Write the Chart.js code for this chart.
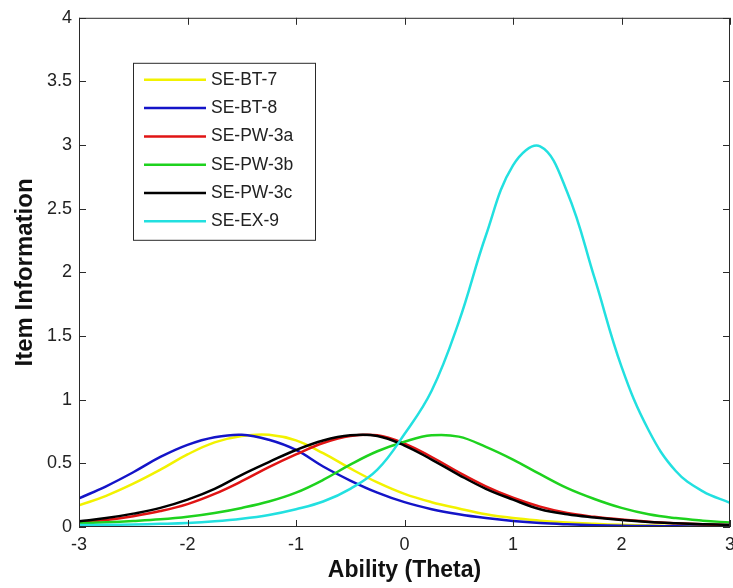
<!DOCTYPE html>
<html>
<head>
<meta charset="utf-8">
<script src="https://cdn.jsdelivr.net/npm/chart.js@4.4.1/dist/chart.umd.min.js"></script>
<style>
  html, body { margin: 0; padding: 0; background: #fff; }
  #canvaschart { width: 733px; height: 588px; }
</style>
</head>
<body>
<div id="canvaschart"><canvas id="char" width="733" height="588"></canvas></div>
<script>
// ability values (x) shared by every curve
var theta = [-3, -2.75, -2.5, -2.25, -2, -1.75, -1.5, -1.25, -1, -0.75, -0.5, -0.25, 0,
  0.25, 0.5, 0.75, 1, 1.25, 1.5, 1.75, 2, 2.25, 2.5, 2.75, 3];

// item information
var seBT7 = [0.17, 0.245, 0.34, 0.45, 0.57, 0.665, 0.715, 0.725, 0.68, 0.58, 0.46, 0.35, 0.26,
  0.195, 0.145, 0.10, 0.07, 0.05, 0.035, 0.025, 0.017, 0.012, 0.008, 0.005, 0.004];
var seBT8 = [0.225, 0.32, 0.43, 0.55, 0.645, 0.705, 0.725, 0.685, 0.605, 0.475, 0.365, 0.27, 0.195,
  0.14, 0.10, 0.07, 0.047, 0.031, 0.021, 0.014, 0.01, 0.007, 0.005, 0.003, 0.002];
var sePW3a = [0.035, 0.055, 0.085, 0.125, 0.18, 0.26, 0.36, 0.47, 0.57, 0.66, 0.715, 0.72, 0.655,
  0.55, 0.43, 0.32, 0.23, 0.16, 0.11, 0.08, 0.058, 0.042, 0.03, 0.021, 0.015];
var sePW3b = [0.03, 0.037, 0.047, 0.06, 0.08, 0.11, 0.15, 0.20, 0.27, 0.37, 0.49, 0.595, 0.67,
  0.72, 0.71, 0.63, 0.53, 0.415, 0.305, 0.22, 0.15, 0.10, 0.07, 0.05, 0.035];
var sePW3c = [0.045, 0.07, 0.105, 0.15, 0.215, 0.30, 0.41, 0.51, 0.605, 0.68, 0.72, 0.715, 0.64,
  0.53, 0.41, 0.30, 0.215, 0.14, 0.10, 0.075, 0.055, 0.04, 0.03, 0.022, 0.016];
var seEX9 = [0.015, 0.017, 0.02, 0.025, 0.032, 0.045, 0.065, 0.095, 0.14, 0.20, 0.30, 0.45, 0.73,
  1.07, 1.61, 2.29, 2.84, 2.99, 2.63, 1.96, 1.26, 0.76, 0.44, 0.28, 0.19];

var names = ["SE-BT-7", "SE-BT-8", "SE-PW-3a", "SE-PW-3b", "SE-PW-3c", "SE-EX-9"];
var series = [seBT7, seBT8, sePW3a, sePW3b, sePW3c, seEX9];
var colors = ["#f2f200", "#1414c8", "#e01414", "#1ed21e", "#000000", "#22e0e0"];

var xTicks = [-3, -2, -1, 0, 1, 2, 3];
var yTicks = [0, 0.5, 1, 1.5, 2, 2.5, 3, 3.5, 4];

Chart.defaults.font.family = '"Liberation Sans", Arial, sans-serif';
Chart.defaults.color = "#222";

// matlab style box, inside ticks and the legend
const boxPlugin = {
  id: "box",
  afterDraw: function (chart) {
    const ctx = chart.ctx;
    const a = chart.chartArea;
    const xs = chart.scales.x;
    const ys = chart.scales.y;
    const tl = 7;
    ctx.save();
    ctx.strokeStyle = "#2a2a2a";
    ctx.lineWidth = 1;
    ctx.strokeRect(a.left + 0.5, a.top + 0.5, a.right - a.left - 1, a.bottom - a.top - 1);
    ctx.beginPath();
    xs.ticks.forEach(function (t) {
      const px = Math.round(xs.getPixelForValue(t.value)) + 0.5;
      ctx.moveTo(px, a.bottom); ctx.lineTo(px, a.bottom - tl);
      ctx.moveTo(px, a.top); ctx.lineTo(px, a.top + tl);
    });
    ys.ticks.forEach(function (t) {
      const py = Math.round(ys.getPixelForValue(t.value)) + 0.5;
      ctx.moveTo(a.left, py); ctx.lineTo(a.left + tl, py);
      ctx.moveTo(a.right, py); ctx.lineTo(a.right - tl, py);
    });
    ctx.stroke();

    // legend
    const lx = a.left + 54, ly = a.top + 45, lw = 182, lh = 177;
    ctx.fillStyle = "#fff";
    ctx.fillRect(lx, ly, lw, lh);
    ctx.strokeStyle = "#2a2a2a";
    ctx.strokeRect(lx + 0.5, ly + 0.5, lw, lh);
    ctx.font = '17.5px "Liberation Sans", Arial, sans-serif';
    ctx.textBaseline = "middle";
    ctx.textAlign = "left";
    names.forEach(function (n, i) {
      const y = ly + 17 + i * 28.3;
      ctx.strokeStyle = colors[i];
      ctx.lineWidth = 2.5;
      ctx.beginPath();
      ctx.moveTo(lx + 11, y); ctx.lineTo(lx + 73, y);
      ctx.stroke();
      ctx.fillStyle = "#222";
      ctx.fillText(n, lx + 78, y);
    });
    ctx.restore();
  },
};

const ctx = document.getElementById("char").getContext("2d");
const myChart = new Chart(ctx, {
  type: "line",
  data: {
    datasets: series.map(function (s, i) {
      return {
        label: names[i],
        data: theta.map(function (t, j) { return { x: t, y: s[j] }; }),
        borderColor: colors[i],
        borderWidth: 2.5,
        pointRadius: 0,
        fill: false,
        tension: 0.4,
        order: series.length - i,
      };
    }),
  },
  options: {
    responsive: false,
    animation: false,
    layout: { padding: { left: 0, top: 15, right: 3, bottom: 0 } },
    plugins: { legend: { display: false }, tooltip: { enabled: false } },
    scales: {
      x: {
        type: "linear",
        min: -3,
        max: 3,
        grid: { display: false, drawTicks: false },
        border: { display: false },
        afterBuildTicks: function (s) { s.ticks = xTicks.map(function (v) { return { value: v }; }); },
        afterFit: function (s) { s.height = 61; s.paddingLeft = 0; s.paddingRight = 0; },
        ticks: {
          padding: 7,
          maxRotation: 0,
          font: { size: 18 },
          callback: function (v) { return String(v); },
        },
        title: {
          display: true,
          text: "Ability (Theta)",
          color: "#111",
          font: { size: 23, weight: "bold" },
          padding: { top: 0, bottom: 4 },
        },
      },
      y: {
        type: "linear",
        min: 0,
        max: 4,
        grid: { display: false, drawTicks: false },
        border: { display: false },
        afterBuildTicks: function (s) { s.ticks = yTicks.map(function (v) { return { value: v }; }); },
        afterFit: function (s) { s.width = 79; },
        ticks: {
          padding: 7,
          font: { size: 18 },
          callback: function (v) { return String(v); },
        },
        title: {
          display: true,
          text: "Item Information",
          color: "#111",
          font: { size: 24, weight: "bold" },
          padding: { top: 11, bottom: 0 },
        },
      },
    },
  },
  plugins: [boxPlugin],
});
</script>
</body>
</html>
